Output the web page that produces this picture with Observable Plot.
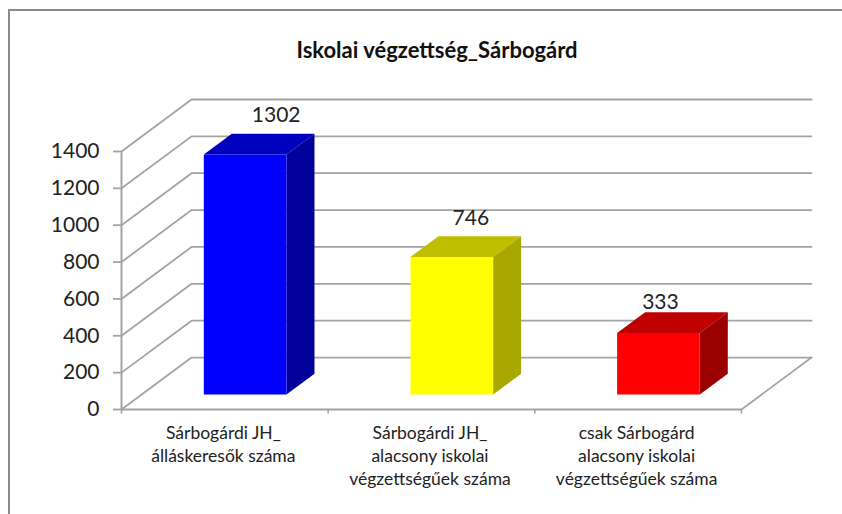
<!DOCTYPE html>
<html><head><meta charset="utf-8">
<script src="https://cdn.jsdelivr.net/npm/d3@7"></script>
<script src="https://cdn.jsdelivr.net/npm/@observablehq/plot@0.6"></script>
<style>
html,body{margin:0;padding:0;background:#fff;overflow:hidden}
#wrap{position:relative;width:842px;height:514px;font-family:Lato,sans-serif}
#frame{position:absolute;left:8px;top:9px;width:840px;height:520px;border-left:2px solid #8a8a8a;border-top:2px solid #8a8a8a}
#title{position:absolute;left:0;top:36px;width:874px;text-align:center;font:bold 22px Lato,sans-serif;color:#111}
svg{position:absolute;left:0;top:0;background:transparent}
</style></head><body>
<div id="wrap"><div id="frame"></div><div id="title">Iskolai végzettség_Sárbogárd</div></div>
<script>
const categories = ["Sárbogárdi JH_\nálláskeresők száma","Sárbogárdi JH_\nalacsony iskolai\nvégzettségűek száma","csak Sárbogárd\nalacsony iskolai\nvégzettségűek száma"];
const values = [1302,746,333];
const frontColors = ["#0000ff","#ffff00","#ff0000"];
const topColors = ["#0000bf","#bfbf00","#bf0000"];
const sideColors = ["#00009a","#a8a800","#9a0000"];
const yTicks = [0,200,400,600,800,1000,1200,1400];

// oblique projection, depth expressed in data units
const depthX = 0.339, depthY = 282;
const P = (u,v,d) => ({x:u+depthX*d, y:v+depthY*d});
const d0 = 0.29, d1 = 0.69;

const grid = yTicks.flatMap(v => [P(0,v,0),P(0,v,1),P(3,v,1)].map(p=>({...p,id:v})));
const floor = [P(0,0,0),P(3,0,0),P(3,0,1)];
const polys = values.flatMap((v,i)=>{
  const a=i+0.3,b=i+0.7;
  return [
    {id:"t"+i,fill:topColors[i],pts:[P(a,v,d0),P(b,v,d0),P(b,v,d1),P(a,v,d1)]},
    {id:"s"+i,fill:sideColors[i],pts:[P(b,0,d0),P(b,0,d1),P(b,v,d1),P(b,v,d0)]},
    {id:"f"+i,fill:frontColors[i],pts:[P(a,0,d0),P(b,0,d0),P(b,v,d0),P(a,v,d0)]}
  ].flatMap(f=>[...f.pts,f.pts[0]].map(p=>({...p,id:f.id,fill:f.fill})));
});
const lab = i => [{...P(i+0.5,values[i],d1),text:String(values[i])}];
const lineC = "#a3a3a3";
const txt = "#222";

const chart = Plot.plot({
  width:842,height:514,marginLeft:121,marginRight:31,marginTop:99,marginBottom:105,
  x:{domain:[0,3+depthX],axis:null},
  y:{domain:[0,1400+depthY]},
  color:{type:"identity"},
  style:{background:"transparent",fontFamily:"Lato,sans-serif"},
  marks:[
    Plot.line(grid,{x:"x",y:"y",z:"id",stroke:lineC,strokeWidth:1.8}),
    Plot.line(floor,{x:"x",y:"y",stroke:lineC,strokeWidth:1.8}),
    Plot.ruleX([0],{y1:0,y2:1400,stroke:lineC,strokeWidth:2}),
    Plot.ruleX([0,1,2,3],{y1:-25,y2:0,stroke:lineC,strokeWidth:1.6}),
    Plot.axisY(yTicks,{anchor:"left",tickSize:8,tickPadding:14,stroke:lineC,strokeWidth:1.8,fontSize:21,fill:txt,label:null,textStroke:"none",tickFormat:d=>String(d),color:txt}),
    Plot.line(polys,{x:"x",y:"y",z:"id",fill:"fill",stroke:"none"}),
    Plot.text(lab(0),{x:"x",y:"y",text:"text",fontSize:21,fill:txt,dx:3,dy:-18}),
    Plot.text(lab(1),{x:"x",y:"y",text:"text",fontSize:21,fill:txt,dx:-9,dy:-18}),
    Plot.text(lab(2),{x:"x",y:"y",text:"text",fontSize:21,fill:txt,dx:-26,dy:-10}),
    Plot.text(categories,{x:(d,i)=>i+0.5,y:0,text:d=>d,lineAnchor:"top",dx:-1.5,dy:13,fontSize:17.5,lineHeight:1.32,fill:txt})
  ]
});
document.getElementById("wrap").appendChild(chart);
</script>
</body></html>
